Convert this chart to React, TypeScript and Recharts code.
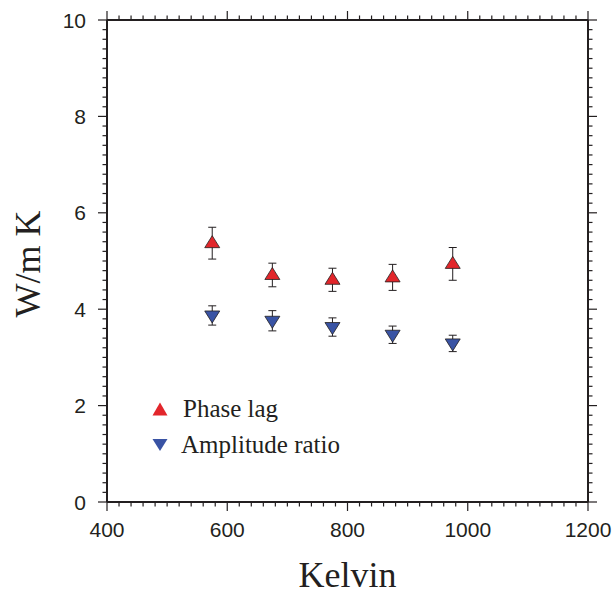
import React from 'react';
import { ScatterChart, Scatter, XAxis, YAxis, ErrorBar, Legend } from 'recharts';

// Temperatures (K) and conductivity estimates (W/m K)
const temperatures = [575, 675, 775, 875, 975];
const phaseLag = [5.37, 4.71, 4.61, 4.66, 4.94];
const phaseLagErr = [0.33, 0.245, 0.24, 0.27, 0.34];
const amplitudeRatio = [3.87, 3.76, 3.63, 3.47, 3.29];
const amplitudeRatioErr = [0.2, 0.21, 0.19, 0.18, 0.17];
const seriesNames = ['Phase lag', 'Amplitude ratio'];

const xMajorTicks = [400, 600, 800, 1000, 1200];
const yMajorTicks = [0, 2, 4, 6, 8, 10];
const xTicks = Array.from({ length: 41 }, (_, i) => 400 + i * 20);
const yTicks = Array.from({ length: 51 }, (_, i) => Math.round(i * 2) / 10);

const INK = '#231f20';
const RED = '#e2262b';
const BLUE = '#3953a4';
const SANS = '"Liberation Sans", Arial, sans-serif';
const SERIF = '"Liberation Serif", "Times New Roman", serif';

const phaseData = temperatures.map((t, i) => ({ kelvin: t, value: phaseLag[i], err: phaseLagErr[i] }));
const ampData = temperatures.map((t, i) => ({ kelvin: t, value: amplitudeRatio[i], err: amplitudeRatioErr[i] }));

const tickLen = (major: boolean) => (major ? 9 : 4.5);
const TICK_W = 1.2;

const BottomTick = (props: any) => {
  const x = Number(props.x);
  const y = Number(props.y);
  const major = xMajorTicks.includes(props.payload.value);
  return (
    <g>
      <line x1={x} x2={x} y1={y} y2={y + tickLen(major)} stroke={INK} strokeWidth={TICK_W} />
      {major && (
        <text x={x} y={y + 35} textAnchor="middle" fontFamily={SANS} fontSize={21} fill={INK}>
          {props.payload.value}
        </text>
      )}
    </g>
  );
};

const TopTick = (props: any) => {
  const x = Number(props.x);
  const y = Number(props.y);
  const major = xMajorTicks.includes(props.payload.value);
  return <line x1={x} x2={x} y1={y} y2={y - tickLen(major)} stroke={INK} strokeWidth={TICK_W} />;
};

const LeftTick = (props: any) => {
  const x = Number(props.x);
  const y = Number(props.y);
  const major = yMajorTicks.includes(props.payload.value);
  return (
    <g>
      <line x1={x} x2={x - tickLen(major)} y1={y} y2={y} stroke={INK} strokeWidth={TICK_W} />
      {major && (
        <text x={x - 21} y={y + 7.5} textAnchor="end" fontFamily={SANS} fontSize={21} fill={INK}>
          {props.payload.value}
        </text>
      )}
    </g>
  );
};

const RightTick = (props: any) => {
  const x = Number(props.x);
  const y = Number(props.y);
  const major = yMajorTicks.includes(props.payload.value);
  return <line x1={x} x2={x + tickLen(major)} y1={y} y2={y} stroke={INK} strokeWidth={TICK_W} />;
};

const XTitle = ({ viewBox }: any) => (
  <text x={viewBox.x + viewBox.width / 2} y={viewBox.y + 85} textAnchor="middle" fontFamily={SERIF} fontSize={36} fill={INK}>
    Kelvin
  </text>
);

const YTitle = ({ viewBox }: any) => {
  const cy = viewBox.y + viewBox.height / 2 + 3;
  return (
    <text x={40} y={cy} transform={`rotate(-90 40 ${cy})`} textAnchor="middle" fontFamily={SERIF} fontSize={36} fill={INK}>
      W/m K
    </text>
  );
};

const UpTriangle = ({ cx, cy }: any) => (
  <path d={`M${cx},${cy - 7.5} L${cx + 7.5},${cy + 4.5} L${cx - 7.5},${cy + 4.5} Z`} fill={RED} stroke={INK} strokeWidth={0.8} />
);

const DownTriangle = ({ cx, cy }: any) => (
  <path d={`M${cx - 7.5},${cy - 4.5} L${cx + 7.5},${cy - 4.5} L${cx},${cy + 7.5} Z`} fill={BLUE} stroke={INK} strokeWidth={0.8} />
);

const renderLegend = () => (
  <div style={{ fontFamily: SERIF, fontSize: 25, color: INK, lineHeight: '36px' }}>
    {seriesNames.map((name, i) => (
      <div key={name} style={{ display: 'flex', alignItems: 'center' }}>
        <svg width={16} height={14} style={{ marginRight: i === 0 ? 15 : 13 }}>
          {i === 0 ? <path d="M8,0.5 L15.5,13.5 L0.5,13.5 Z" fill={RED} /> : <path d="M0.5,1 L15.5,1 L8,13 Z" fill={BLUE} />}
        </svg>
        <span>{name}</span>
      </div>
    ))}
  </div>
);

const App: React.FC = () => {
  return (
    <div style={{ position: 'absolute', left: 0, top: 0, width: 616, height: 599, background: '#fff' }}>
      <ScatterChart width={616} height={599} margin={{ top: 19, right: 27, bottom: 0, left: 0 }}>
        <XAxis
          type="number"
          dataKey="kelvin"
          domain={[400, 1200]}
          ticks={xTicks}
          interval={0}
          height={97}
          tickSize={0}
          tickMargin={0}
          tickLine={false}
          tick={<BottomTick />}
          axisLine={{ stroke: INK, strokeWidth: 2 }}
          label={<XTitle />}
          allowDataOverflow
        />
        <XAxis
          xAxisId="top"
          orientation="top"
          type="number"
          dataKey="kelvin"
          domain={[400, 1200]}
          ticks={xTicks}
          interval={0}
          height={1}
          tickSize={0}
          tickMargin={0}
          tickLine={false}
          tick={<TopTick />}
          axisLine={{ stroke: INK, strokeWidth: 2 }}
          allowDataOverflow
        />
        <YAxis
          type="number"
          dataKey="value"
          domain={[0, 10]}
          ticks={yTicks}
          interval={0}
          width={107}
          tickSize={0}
          tickMargin={0}
          tickLine={false}
          tick={<LeftTick />}
          axisLine={{ stroke: INK, strokeWidth: 2 }}
          label={<YTitle />}
          allowDataOverflow
        />
        <YAxis
          yAxisId="right"
          orientation="right"
          type="number"
          dataKey="value"
          domain={[0, 10]}
          ticks={yTicks}
          interval={0}
          width={1}
          tickSize={0}
          tickMargin={0}
          tickLine={false}
          tick={<RightTick />}
          axisLine={{ stroke: INK, strokeWidth: 2 }}
          allowDataOverflow
        />
        <Legend
          layout="vertical"
          align="center"
          verticalAlign="middle"
          wrapperStyle={{ left: 152, top: 391, width: 260 }}
          content={renderLegend}
        />
        {/* invisible series so the top/right frame axes get a scale */}
        <Scatter xAxisId="top" yAxisId="right" data={phaseData} shape={() => <g />} legendType="none" isAnimationActive={false} />
        <Scatter name={seriesNames[0]} data={phaseData} fill={RED} shape={<UpTriangle />} isAnimationActive={false}>
          <ErrorBar dataKey="err" direction="y" width={4} stroke={INK} strokeWidth={1} isAnimationActive={false} />
        </Scatter>
        <Scatter name={seriesNames[1]} data={ampData} fill={BLUE} shape={<DownTriangle />} isAnimationActive={false}>
          <ErrorBar dataKey="err" direction="y" width={4} stroke={INK} strokeWidth={1} isAnimationActive={false} />
        </Scatter>
      </ScatterChart>
    </div>
  );
};

export default App;
